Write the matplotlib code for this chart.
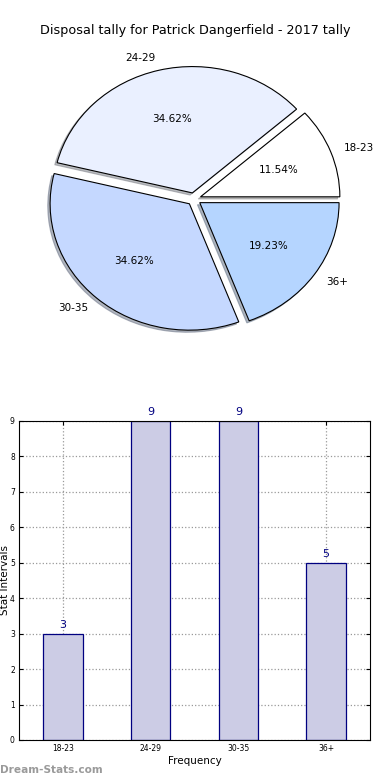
import numpy as np
import matplotlib
matplotlib.use("Agg")
from matplotlib import pyplot as plt

categories = ["18-23", "24-29", "30-35", "36+"]
counts = [3, 9, 9, 5]
pie_colors = ["#FFFFFF", "#EAF0FF", "#C5D8FF", "#B5D5FF"]

fig = plt.figure(figsize=(3.9, 7.8), dpi=100)

# pie chart
ax1 = fig.add_axes([0.051, 0.5423, 0.893, 0.405])
wedges, texts, autotexts = ax1.pie(
    counts, labels=categories, colors=pie_colors, explode=[0.05] * 4,
    autopct="%1.2f%%", startangle=0,
    shadow={"ox": -0.012, "oy": -0.012, "shade": 0.5},
    wedgeprops=dict(edgecolor="black", linewidth=0.8),
    textprops=dict(fontsize=7.5))
ax1.set_aspect("auto")
ax1.set_xlim(-1.25, 1.25)
ax1.set_ylim(-1.25, 1.25)
fig.text(0.5, 0.961, "Disposal tally for Patrick Dangerfield - 2017 tally",
         ha="center", va="center", fontsize=9.2)

# bar chart
ax2 = fig.add_axes([0.0487, 0.0513, 0.9, 0.409])
x = np.arange(len(categories))
bars = ax2.bar(x, counts, width=0.45, color="#CCCCE5", edgecolor="navy",
               linewidth=0.9, zorder=2)
for xi, c in zip(x, counts):
    ax2.text(xi, c + 0.1, str(c), ha="center", va="bottom", fontsize=8,
             color="navy")
ax2.set_xlim(-0.5, 3.5)
ax2.set_ylim(0, 9)
ax2.set_xticks(x)
ax2.set_xticklabels(categories)
ax2.set_yticks(range(10))
ax2.tick_params(labelsize=5.5, direction="in", top=True, right=True,
                length=3, pad=3)
ax2.grid(True, linestyle=":", color="#999999", linewidth=0.9, zorder=0)
ax2.set_axisbelow(True)
ax2.set_xlabel("Frequency", fontsize=7.5, labelpad=2)
ax2.set_ylabel("Stat Intervals", fontsize=7.5)
ax2.yaxis.set_label_coords(-0.026, 0.5)

fig.text(0.0, 0.013, "Dream-Stats.com", ha="left", va="center", fontsize=7.6,
         fontweight="bold", color="#9a9a9a")

fig.savefig("out.png", dpi=100)
